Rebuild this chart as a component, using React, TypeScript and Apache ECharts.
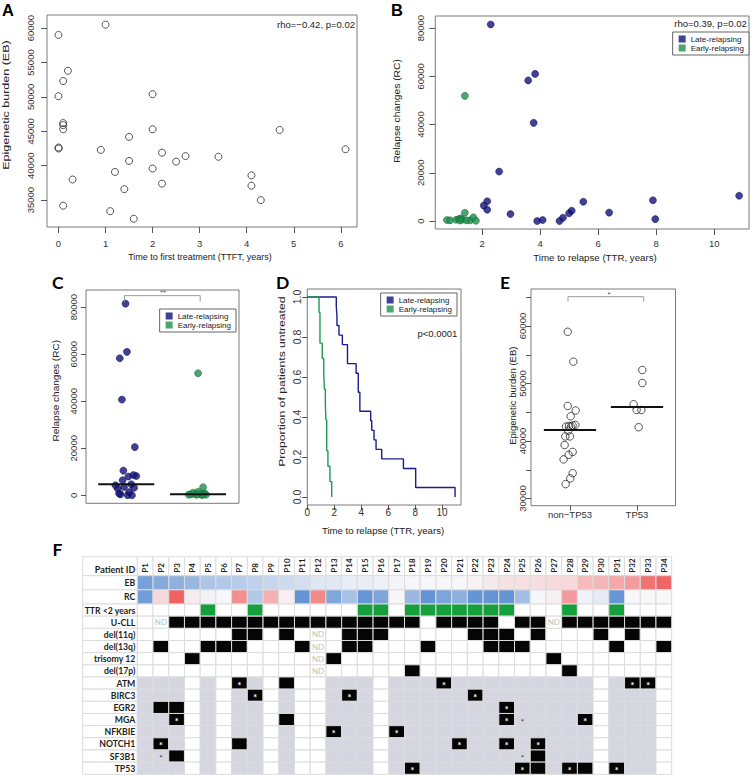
import React, { useEffect, useRef } from "react";
import * as echarts from "echarts";

const FONT = "Liberation Sans, Arial, sans-serif";
const FONT_F = "Lato, 'Open Sans', sans-serif";
const NAVY = "#12127e";
const GREEN = "#21904f";

// ---------------- Panel A ----------------
const aTtftYears = [0, 1.0, 0.2, 0.1, 0, 0.1, 0.1, 0.1, 0, 0.005, 0.3, 0.1, 0.9, 1.2, 1.1, 1.4, 1.5, 1.5, 1.6, 2.0, 2.0, 2.0, 2.2, 2.2, 2.5, 2.7, 3.4, 4.1, 4.1, 4.3, 4.7, 6.1];
const aEb = [59000, 60500, 53800, 52300, 50100, 46200, 45900, 45300, 42650, 42500, 38000, 34200, 42300, 39100, 33400, 36600, 44200, 40700, 32300, 50400, 45300, 39600, 41900, 37400, 40600, 41400, 41300, 38600, 37100, 35000, 45200, 42400];
const aXTicks = [0, 1, 2, 3, 4, 5, 6];
const aYTicks = [35000, 40000, 45000, 50000, 55000, 60000];
const aStat = "rho=\u22120.42, p=0.02";

// ---------------- Panel B / C ----------------
const lateTTR = [2.3, 3.59, 3.83, 3.78, 2.59, 2.06, 2.18, 2.18, 2.98, 3.9, 4.09, 4.67, 4.79, 5.0, 5.09, 5.49, 6.38, 7.89, 7.97, 10.86];
const lateRC = [81500, 58300, 61000, 40700, 20500, 6400, 8200, 4700, 2900, 0, 400, 0, 1400, 3200, 4300, 8000, 3500, 8600, 800, 10500];
const earlyTTR = [1.41, 1.41, 0.79, 0.9, 1.11, 1.2, 1.27, 1.33, 1.47, 1.6, 1.7, 1.79, 1.25];
const earlyRC = [51900, 3460, 400, 280, 500, 830, 1100, 600, 280, 300, 1520, 140, 200];
const bXTicks = [2, 4, 6, 8, 10];
const bYTicks = [0, 20000, 40000, 60000, 80000];
const bStat = "rho=0.39, p=0.02";
const lateJitter = [-0.01, -0.09, 0.01, -0.06, 0.12, -0.05, 0.14, 0.07, -0.12, 0.08, -0.08, 0.02, 0.04, 0.11, -0.15, 0.03, -0.03, 0.1, -0.1, -0.04];
const earlyJitter = [0.0, 0.07, -0.1, 0.05, -0.04, 0.09, -0.07, 0.02, 0.11, -0.13, 0.0, 0.06, -0.02];
const cMedians = [4700, 500];
const cBracket = [[0.976, 82400], [0.976, 84900], [2.03, 84900], [2.03, 82400]];
const groupNames = ["Late-relapsing", "Early-relapsing"];

// ---------------- Panel D ----------------
const dLateTimes = [2.15, 2.2, 2.2, 2.35, 2.6, 2.98, 2.98, 3.62, 3.78, 3.78, 3.9, 3.9, 4.7, 4.78, 4.95, 5.1, 5.52, 7.13, 8.04, 8.04, 10.96];
const dEarlyTimes = [0.87, 0.94, 0.94, 1.11, 1.22, 1.27, 1.34, 1.38, 1.44, 1.44, 1.53, 1.68, 1.81];
const dXTicks = [0, 2, 4, 6, 8, 10];
const dYTicks = [0, 0.2, 0.4, 0.6, 0.8, 1.0];
const dStat = "p<0.0001";

// ---------------- Panel E ----------------
const eGroups = ["non\u2212TP53", "TP53"];
const eNonX = [0.966, 1.05, 0.966, 1.085, 1.01, 0.94, 1.015, 0.985, 1.04, 1.08, 0.93, 1.0, 0.92, 1.04, 0.98, 0.905, 1.04, 1.005, 0.935, 0.975];
const eNonEb = [59000, 53800, 46100, 45300, 44300, 42500, 42500, 42600, 42700, 42800, 40800, 40800, 39300, 38100, 37600, 36800, 34400, 33500, 32500, 41800];
const eTpX = [2.08, 2.08, 1.95, 1.995, 2.065, 2.025];
const eTpEb = [52350, 50090, 46400, 45400, 45400, 42400];
const eMedians = [41900, 45900];
const eBracket = [[0.97, 64230], [0.97, 65100], [2.1, 65100], [2.1, 64230]];
const eYTicks = [30000, 35000, 40000, 45000, 50000, 55000, 60000, 65000];
const eYLabels = [30000, 40000, 50000, 60000];

// ---------------- Panel F ----------------
const patientIds = ["P1","P2","P3","P4","P5","P6","P7","P8","P9","P10","P11","P12","P13","P14","P15","P16","P17","P18","P19","P20","P21","P22","P23","P24","P25","P26","P27","P28","P29","P30","P31","P32","P33","P34"];
const ebValues = [32300, 33400, 34200, 35000, 36600, 37100, 37400, 38000, 38600, 39100, 39600, 40600, 40700, 41300, 41400, 41800, 42200, 42300, 42400, 42500, 42600, 43000, 44200, 45200, 45300, 45400, 45900, 46200, 50000, 50400, 52300, 53800, 59000, 60500];
const rcValues = [700, 20500, 81500, 10500, 4300, 4500, 58300, 2500, 40700, 8600, 300, 61000, 1100, 2200, 400, 1000, 4500, 1800, 300, 1000, 1500, 350, 300, 350, 2100, 4450, 8200, 51900, 4300, 4000, 400, 4550, 4800, 4500];
const ttrEarly = [5, 8, 15, 16, 18, 19, 20, 21, 22, 23, 24, 28, 31];
const ucll = [3, 4, 5, 6, 7, 8, 9, 10, 11, 12, 13, 14, 15, 16, 17, 18, 20, 21, 22, 23, 25, 26, 28, 29, 30, 31, 32, 33, 34];
const ucllND = [2, 27];
const cnaNames = ["del(11q)", "del(13q)", "trisomy 12", "del(17p)"];
const cnaCells = [
  [7, 8, 10, 14, 15, 16, 22, 23, 24, 26, 30, 32],
  [2, 5, 6, 7, 11, 14, 15, 19, 23, 24, 25, 31, 34],
  [4, 13, 27],
  [18, 28],
];
const cnaND = [12];
const sequenced = [1, 2, 3, 5, 7, 8, 10, 13, 14, 15, 17, 18, 19, 20, 21, 22, 23, 24, 25, 26, 27, 28, 29, 31, 32, 33];
const mutGenes = ["ATM", "BIRC3", "EGR2", "MGA", "NFKBIE", "NOTCH1", "SF3B1", "TP53"];
const mutCells = [[7, 10, 20, 32, 33], [8, 14, 22], [2, 3, 24], [3, 10, 24, 29], [13, 17], [2, 7, 21, 24, 26], [3, 26], [18, 25, 26, 28, 29, 31]];
const mutStars = [[7, 20, 32, 33], [8, 14, 22], [24], [3, 24, 29], [13, 17], [2, 21, 24, 26], [], [18, 25, 28, 31]];
const starOnly = [[], [], [], [25], [], [], [2, 25], []];

// ---------- helpers ----------
const BLUE = [90, 141, 208];
const WHITE = [247, 247, 250];
const RED = [240, 98, 98];
function mix(a: number[], b: number[], t: number) {
  const c = a.map((v, i) => Math.round(v + (b[i] - v) * Math.max(0, Math.min(1, t))));
  return `rgb(${c[0]},${c[1]},${c[2]})`;
}
function divColor(v: number, lo: number, mid: number, hi: number) {
  if (v < mid) return mix(WHITE, BLUE, (mid - v) / (mid - lo));
  return mix(WHITE, RED, (v - mid) / (hi - mid));
}
function kmSteps(times: number[]) {
  const s = [...times].sort((a, b) => a - b);
  const n = s.length;
  const pts: number[][] = [[0, 1]];
  s.forEach((t, i) => pts.push([t, 1 - (i + 1) / n]));
  return pts;
}
const numFmt = (v: number) => String(v);

function vAxis(gridIndex: number, min: number, max: number, ticks: number[], labels: number[], o: any = {}) {
  const label: any = {
    show: labels.length > 0,
    customValues: labels,
    margin: o.margin ?? 8,
    rotate: o.rotate ?? 0,
    fontSize: o.fontSize ?? 9.5,
    color: "#333",
    fontFamily: FONT,
    formatter: o.formatter ?? numFmt,
  };
  if (o.rotate) {
    label.align = "center";
    label.verticalAlign = "middle";
  }
  return {
    gridIndex,
    type: "value",
    min,
    max,
    axisLine: { show: false, onZero: false },
    splitLine: { show: false },
    axisTick: { show: ticks.length > 0, length: o.tickLen ?? 5, customValues: ticks, lineStyle: { color: "#555", width: 1 } },
    axisLabel: label,
  };
}

function txt(text: string, x: number, y: number, o: any = {}) {
  const align = o.align || "center";
  return {
    type: "text",
    x,
    y,
    rotation: o.rot || 0,
    scaleX: o.sx || 1,
    silent: true,
    z: 100,
    style: {
      text,
      fill: o.color || "#222",
      fontSize: o.size || 9.5,
      fontFamily: o.family || FONT,
      fontWeight: o.weight || "normal",
      align,
      textAlign: align,
      verticalAlign: "middle",
      textVerticalAlign: "middle",
    },
  };
}

type Cell = { x0: number; x1: number; row: number; fill: string; text?: string; color?: string; size?: number; bold?: boolean; align?: string; rotate?: boolean; dy?: number; dx?: number };
const F_XMIN = -2.974;
const F_XMAX = 34.5;

function labelCell(row: number, text: string, size = 8.7, dy = 0): Cell {
  return { x0: F_XMIN, x1: 0.5, row, fill: "#ffffff", text, color: "#1e1e1e", size, bold: true, align: "right", dy };
}

function buildCells() {
  const header: Cell[] = [labelCell(0, "Patient ID", 9, 3.5)];
  patientIds.forEach((p, i) => {
    const k = i + 1;
    header.push({ x0: k - 0.5, x1: k + 0.5, row: 0, fill: "#ffffff", text: p, color: "#1e1e1e", size: 8, bold: true, align: "left", rotate: true, dy: 6.5 });
  });
  const top: Cell[] = [labelCell(0, "EB"), labelCell(1, "RC")];
  patientIds.forEach((_, i) => {
    const k = i + 1;
    top.push({ x0: k - 0.5, x1: k + 0.5, row: 0, fill: divColor(ebValues[i], 30000, 42450, 61000) });
    top.push({ x0: k - 0.5, x1: k + 0.5, row: 1, fill: divColor(rcValues[i], 0, 4500, 81500) });
  });
  const bottom: Cell[] = [];
  const rowNames = ["TTR <2 years", "U-CLL", ...cnaNames, ...mutGenes];
  rowNames.forEach((n, r) => bottom.push(labelCell(r, n)));
  const ND = "#b3c7bd";
  patientIds.forEach((_, i) => {
    const k = i + 1;
    const base = { x0: k - 0.5, x1: k + 0.5 };
    bottom.push({ ...base, row: 0, fill: ttrEarly.includes(k) ? "#14a03a" : "#ffffff" });
    if (ucllND.includes(k)) bottom.push({ ...base, row: 1, fill: "#ffffff", text: "ND", color: ND, size: 8 });
    else bottom.push({ ...base, row: 1, fill: ucll.includes(k) ? "#050505" : "#ffffff" });
    cnaCells.forEach((list, c) => {
      const row = 2 + c;
      if (cnaND.includes(k)) bottom.push({ ...base, row, fill: "#ffffff", text: "ND", color: ND, size: 8 });
      else bottom.push({ ...base, row, fill: list.includes(k) ? "#050505" : "#ffffff" });
    });
    mutGenes.forEach((_, g) => {
      const row = 6 + g;
      const seq = sequenced.includes(k);
      if (mutCells[g].includes(k)) {
        bottom.push({ ...base, row, fill: "#050505", text: mutStars[g].includes(k) ? "*" : undefined, color: "#ffffff", size: 9, bold: true, dy: 2 });
      } else {
        bottom.push({ ...base, row, fill: seq ? "#d6d6e0" : "#ffffff", text: starOnly[g].includes(k) ? "*" : undefined, color: "#333", size: 8, dy: 2 });
      }
    });
  });
  return { header, top, bottom };
}

function cellSeries(idx: number, cells: Cell[]) {
  return {
    type: "custom",
    xAxisIndex: idx,
    yAxisIndex: idx,
    silent: true,
    data: cells.map((c) => [(c.x0 + c.x1) / 2, c.row]),
    renderItem: (params: any, api: any) => {
      const c = cells[params.dataIndex];
      const a = api.coord([c.x0, c.row]);
      const b = api.coord([c.x1, c.row]);
      const h = api.size([0, 1])[1];
      const children: any[] = [
        { type: "rect", shape: { x: a[0], y: a[1] - h / 2, width: b[0] - a[0], height: h }, style: { fill: c.fill, stroke: "#dcdcdc", lineWidth: 1 } },
      ];
      if (c.text) {
        const align = c.align || "center";
        const tx = align === "right" ? b[0] - 2 : (a[0] + b[0]) / 2;
        children.push({
          type: "text",
          x: tx + (c.dx || 0),
          y: a[1] + (c.dy || 0),
          rotation: c.rotate ? Math.PI / 2 : 0,
          style: {
            text: c.text,
            x: 0,
            y: 0,
            fill: c.color,
            fontSize: c.size,
            fontFamily: FONT_F,
            fontWeight: c.bold ? "bold" : "normal",
            align,
            textAlign: align,
            verticalAlign: "middle",
            textVerticalAlign: "middle",
          },
        });
      }
      return { type: "group", children };
    },
  };
}

function buildOption() {
  const cells = buildCells();
  const frame = { show: true, borderColor: "#7a7a7a", borderWidth: 1, backgroundColor: "transparent" };
  const grids = [
    { left: 47, top: 15, width: 310, height: 212, ...frame },
    { left: 435.3, top: 16, width: 313.7, height: 213, ...frame },
    { left: 86, top: 290, width: 153, height: 213.3, ...frame },
    { left: 307.3, top: 289, width: 153.7, height: 216, ...frame },
    { left: 531, top: 289, width: 144.5, height: 216.7, ...frame },
    { left: 82.7, top: 556.7, width: 589, height: 19, show: false },
    { left: 82.7, top: 575.7, width: 589, height: 28.3, show: false },
    { left: 82.7, top: 604, width: 589, height: 170.3, show: false },
  ];
  const fX = (g: number) => ({ gridIndex: g, type: "value", min: F_XMIN, max: F_XMAX, show: false });
  const fY = (g: number, data: string[]) => ({ gridIndex: g, type: "category", data, inverse: true, show: false });

  const xAxis = [
    vAxis(0, -0.244, 6.344, aXTicks, aXTicks, { margin: 11, tickLen: 6 }),
    vAxis(1, 0.39, 11.2, bXTicks, bXTicks, { margin: 9, tickLen: 6 }),
    { gridIndex: 2, type: "value", min: 0.44, max: 2.57, show: false, axisLine: { onZero: false } },
    vAxis(3, 0, 11.4, dXTicks, dXTicks, { margin: 2, fontSize: 10 }),
    vAxis(4, 0.418, 2.575, [1, 2], [1, 2], { margin: 3.5, formatter: (v: number) => eGroups[Math.round(v) - 1] }),
    fX(5),
    fX(6),
    fX(7),
  ];
  const yAxis = [
    vAxis(0, 31100, 61900, aYTicks, aYTicks, { rotate: 90, margin: 17, tickLen: 6 }),
    vAxis(1, -3300, 85000, bYTicks, bYTicks, { rotate: 90, margin: 15.3, tickLen: 6 }),
    vAxis(2, -3400, 87300, bYTicks, bYTicks, { rotate: 90, margin: 13 }),
    vAxis(3, -0.04, 1.04, dYTicks, dYTicks, { rotate: 90, margin: 10.3, fontSize: 10.5, formatter: (v: number) => v.toFixed(1) }),
    vAxis(4, 28750, 66435, eYTicks, eYLabels, { rotate: 90, margin: 9 }),
    fY(5, ["Patient ID"]),
    fY(6, ["EB", "RC"]),
    fY(7, ["TTR <2 years", "U-CLL", ...cnaNames, ...mutGenes]),
  ];

  const navyStyle = { color: NAVY, borderColor: "#07073a", borderWidth: 0.6 };
  const greenStyle = { color: GREEN, borderColor: "#0e5f33", borderWidth: 0.6 };
  const openStyle = { color: "rgba(0,0,0,0)", borderColor: "#2a2a2a", borderWidth: 1 };
  const medianLine = (g: number, x: number, m: number) => ({
    type: "line", xAxisIndex: g, yAxisIndex: g, symbol: "none", silent: true, z: 5,
    data: [[x - 0.39, m], [x + 0.39, m]], lineStyle: { color: "#111", width: 2 },
  });
  const bracket = (g: number, pts: number[][]) => ({
    type: "line", xAxisIndex: g, yAxisIndex: g, symbol: "none", silent: true,
    data: pts, lineStyle: { color: "#9a9a9a", width: 1 },
  });

  const series: any[] = [
    { type: "scatter", xAxisIndex: 0, yAxisIndex: 0, symbolSize: 7, clip: false, itemStyle: openStyle, data: aTtftYears.map((x, i) => [x, aEb[i]]) },
    { name: groupNames[0], type: "scatter", xAxisIndex: 1, yAxisIndex: 1, symbolSize: 7, itemStyle: navyStyle, data: lateTTR.map((x, i) => [x, lateRC[i]]) },
    { name: groupNames[1], type: "scatter", xAxisIndex: 1, yAxisIndex: 1, symbolSize: 7, itemStyle: greenStyle, data: earlyTTR.map((x, i) => [x, earlyRC[i]]) },
    { name: groupNames[0], type: "scatter", xAxisIndex: 2, yAxisIndex: 2, symbolSize: 7, itemStyle: navyStyle, data: lateRC.map((v, i) => [1 + lateJitter[i], v]) },
    { name: groupNames[1], type: "scatter", xAxisIndex: 2, yAxisIndex: 2, symbolSize: 7, itemStyle: greenStyle, data: earlyRC.map((v, i) => [2 + earlyJitter[i], v]) },
    medianLine(2, 1, cMedians[0]),
    medianLine(2, 2, cMedians[1]),
    bracket(2, cBracket),
    { name: groupNames[0], type: "line", xAxisIndex: 3, yAxisIndex: 3, step: "end", symbol: "none", itemStyle: { color: NAVY }, lineStyle: { color: "#1c1c8e", width: 1.4 }, data: kmSteps(dLateTimes) },
    { name: groupNames[1], type: "line", xAxisIndex: 3, yAxisIndex: 3, step: "end", symbol: "none", itemStyle: { color: GREEN }, lineStyle: { color: "#1f9a52", width: 1.4 }, data: kmSteps(dEarlyTimes) },
    { type: "scatter", xAxisIndex: 4, yAxisIndex: 4, symbolSize: 7.5, itemStyle: openStyle, data: eNonX.map((x, i) => [x, eNonEb[i]]) },
    { type: "scatter", xAxisIndex: 4, yAxisIndex: 4, symbolSize: 7.5, itemStyle: openStyle, data: eTpX.map((x, i) => [x, eTpEb[i]]) },
    medianLine(4, 1, eMedians[0]),
    medianLine(4, 2, eMedians[1]),
    bracket(4, eBracket),
    cellSeries(5, cells.header),
    cellSeries(6, cells.top),
    cellSeries(7, cells.bottom),
  ];

  const legendBase = {
    orient: "vertical",
    selectedMode: false,
    icon: "rect",
    itemWidth: 7,
    itemHeight: 7,
    itemGap: 1,
    borderColor: "#666",
    borderWidth: 1,
    borderRadius: 0,
    padding: [3, 5, 3, 6],
    backgroundColor: "#fff",
    textStyle: { fontSize: 8, fontFamily: FONT, color: "#222" },
    itemStyle: { borderWidth: 0 },
    data: groupNames,
  };
  const legend = [
    { ...legendBase, right: 5, top: 32 },
    { ...legendBase, right: 518, top: 309 },
    { ...legendBase, right: 297, top: 293 },
  ];

  const R = Math.PI / 2;
  const graphic = [
    txt("A", 2, 9.5, { size: 16.5, weight: "bold", align: "left", color: "#000" }),
    txt("B", 391, 9.5, { size: 16.5, weight: "bold", align: "left", color: "#000" }),
    txt("C", 52, 282.2, { size: 17.5, weight: "bold", align: "left", family: FONT_F, color: "#000" }),
    txt("D", 276, 282.2, { size: 17.5, weight: "bold", align: "left", family: FONT_F, color: "#000" }),
    txt("E", 500, 282.2, { size: 17.5, weight: "bold", align: "left", family: FONT_F, color: "#000" }),
    txt("F", 52.5, 549.5, { size: 17.5, weight: "bold", align: "left", family: FONT_F, color: "#000" }),
    txt(aStat, 355, 24, { align: "right" }),
    txt(bStat, 746.7, 23.3, { align: "right" }),
    txt(dStat, 457.3, 333, { align: "right" }),
    txt("**", 163, 292.5, { size: 8, color: "#555" }),
    txt("*", 609, 294, { size: 8, color: "#555" }),
    txt("Time to first treatment (TTFT, years)", 200, 257, { size: 9 }),
    txt("Time to relapse (TTR, years)", 595, 257, { size: 9.7 }),
    txt("Time to relapse (TTR, years)", 383, 530.7, { size: 9.6 }),
    txt("Epigenetic burden (EB)", 6, 105, { rot: R, sx: 1.32 }),
    txt("Relapse changes (RC)", 397, 111, { rot: R, sx: 1.08 }),
    txt("Relapse changes (RC)", 55.5, 390.8, { rot: R, sx: 1.06 }),
    txt("Proportion of patients untreated", 282, 381.7, { rot: R, sx: 1.28 }),
    txt("Epigenetic burden (EB)", 512.5, 395.7, { rot: R, sx: 1.0 }),
  ];

  return {
    animation: false,
    backgroundColor: "#ffffff",
    grid: grids,
    xAxis,
    yAxis,
    legend,
    series,
    graphic: { elements: graphic },
  };
}

export default function App() {
  const ref = useRef<HTMLDivElement>(null);
  useEffect(() => {
    if (!ref.current) return;
    const chart = echarts.init(ref.current, null, { renderer: "svg", width: 754, height: 776 });
    chart.setOption(buildOption() as any);
    return () => chart.dispose();
  }, []);
  return <div ref={ref} style={{ position: "absolute", left: 0, top: 0, width: 754, height: 776, background: "#fff" }} />;
}
